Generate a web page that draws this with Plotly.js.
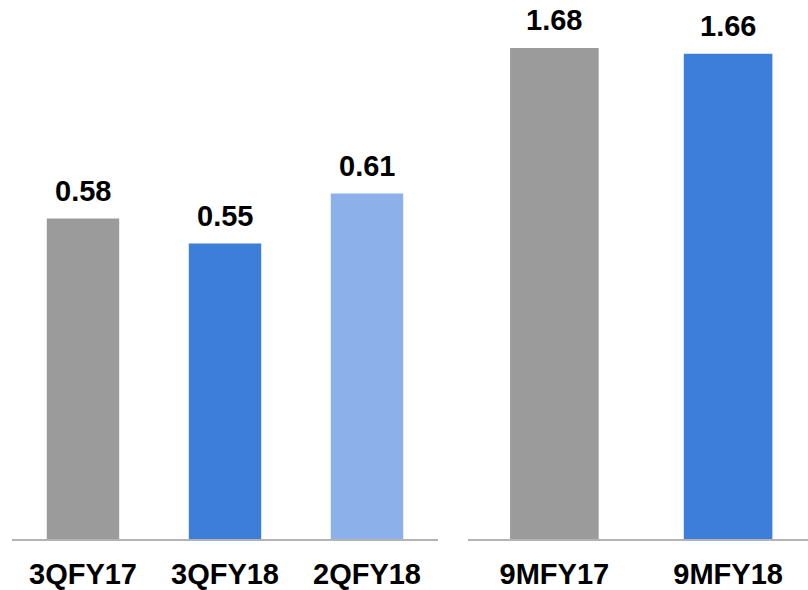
<!DOCTYPE html>
<html>
<head>
<meta charset="utf-8">
<script src="https://cdn.plot.ly/plotly-3.0.1.min.js"></script>
<style>html,body{margin:0;padding:0;background:#fff;}#chart{width:808px;height:590px;}</style>
</head>
<body>
<div id="chart"></div>
<script>
// Left panel: quarterly
const quarterLabels = ["3QFY17", "3QFY18", "2QFY18"];
const quarterValues = [0.58, 0.55, 0.61];
// Right panel: nine months
const nineMonthLabels = ["9MFY17", "9MFY18"];
const nineMonthValues = [1.68, 1.66];

const quarterColors = ["#9b9b9b", "#3d7edb", "#8cb1ea"];
const nineMonthColors = ["#9b9b9b", "#3d7edb"];

const W = 808, H = 590;
const baseY = 539.3;
const yDom = [(H - baseY) / H, 1];
const font = {family: "Liberation Sans, Arial, sans-serif", size: 29, color: "#000"};

const traces = [
  {type: "bar", x: quarterLabels, y: quarterValues, marker: {color: quarterColors},
   width: 0.51, xaxis: "x", yaxis: "y", hoverinfo: "none"},
  {type: "bar", x: nineMonthLabels, y: nineMonthValues, marker: {color: nineMonthColors},
   width: 0.51, xaxis: "x2", yaxis: "y2", hoverinfo: "none"}
];

const annotations = [];
quarterLabels.forEach((c, i) => annotations.push({
  x: c, y: quarterValues[i], xref: "x", yref: "y", text: "<b>" + quarterValues[i].toFixed(2) + "</b>",
  showarrow: false, yanchor: "bottom", yshift: 10, font: font
}));
nineMonthLabels.forEach((c, i) => annotations.push({
  x: c, y: nineMonthValues[i], xref: "x2", yref: "y2", text: "<b>" + nineMonthValues[i].toFixed(2) + "</b>",
  showarrow: false, yanchor: "bottom", yshift: 10, font: font
}));

const axisCommon = {
  type: "category", showgrid: false, zeroline: false, showline: true,
  linecolor: "#b3b3b3", linewidth: 2, ticks: "", tickfont: font, fixedrange: true,
  ticklabelstandoff: 8
};

const layout = {
  width: W, height: H,
  margin: {l: 0, r: 0, t: 0, b: 0},
  paper_bgcolor: "#fff", plot_bgcolor: "#fff",
  showlegend: false,
  xaxis: Object.assign({}, axisCommon, {domain: [12 / W, 438 / W], range: [-0.5, 2.5],
    tickvals: quarterLabels, ticktext: quarterLabels.map(t => "<b>" + t + "</b>"), anchor: "y"}),
  xaxis2: Object.assign({}, axisCommon, {domain: [467.5 / W, 1], range: [-0.5, 1.46],
    tickvals: nineMonthLabels, ticktext: nineMonthLabels.map(t => "<b>" + t + "</b>"), anchor: "y2"}),
  yaxis: {domain: yDom, range: [0.195, 0.195 + baseY / 833], visible: false, fixedrange: true, anchor: "x"},
  yaxis2: {domain: yDom, range: [0, baseY / 292.5], visible: false, fixedrange: true, anchor: "x2"},
  annotations: annotations
};

Plotly.newPlot("chart", traces, layout, {displayModeBar: false, staticPlot: true});
</script>
</body>
</html>
